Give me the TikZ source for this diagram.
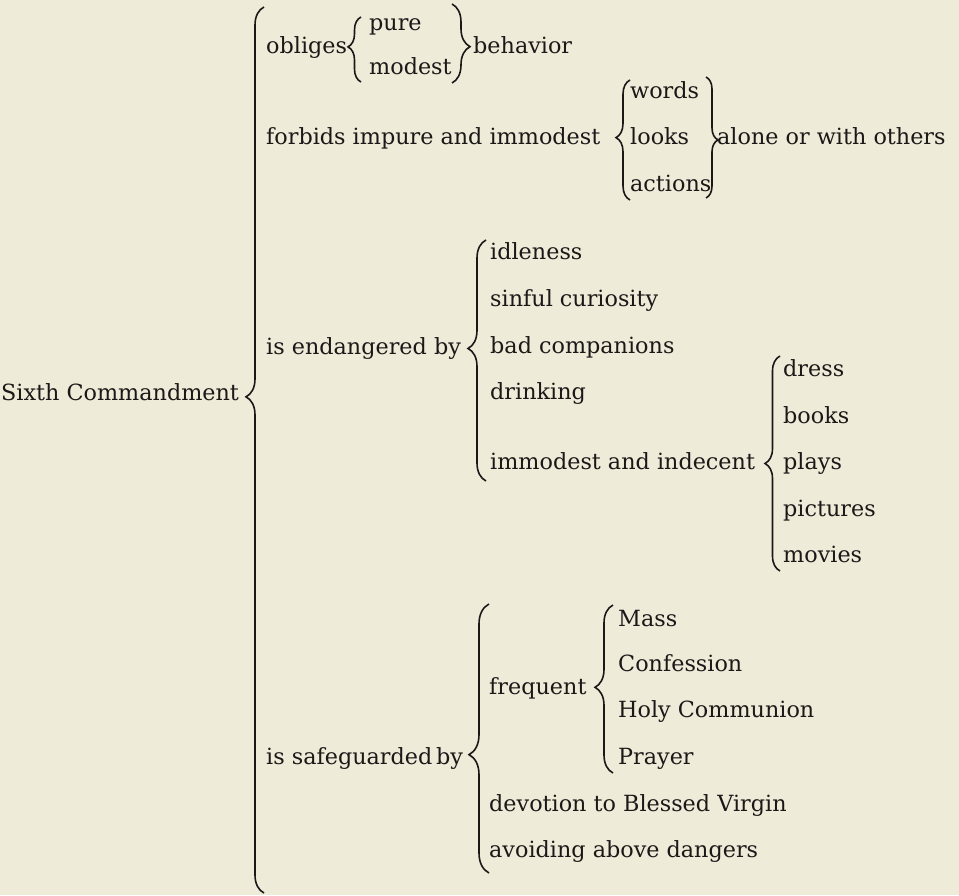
\documentclass[tikz,border=0pt]{standalone}
\usepackage{fontspec}
\setmainfont{DejaVu Serif}
\usepackage{xcolor}
\usetikzlibrary{decorations.pathreplacing}
\definecolor{paper}{RGB}{239,235,217}
\definecolor{ink}{RGB}{28,24,24}

\tikzset{
  word/.style={anchor=base west,inner sep=0pt,text=ink,font=\fontsize{22.3}{26}\selectfont},
  curly/.style={draw=ink,line width=1.6pt,decorate,decoration={brace,amplitude=#1}}
}

\begin{document}
\begin{tikzpicture}[x=1pt,y=-1pt]
        % page
        \fill[paper] (0,0) rectangle (959,895);
        \useasboundingbox (0,0) rectangle (959,895);

        % root
        \node[word] (sixth) at (1,400) {Sixth Commandment};
        \draw[curly=18,decoration={aspect=0.56}] (264,893) -- (264,7);

        % obliges
        \node[word] (obliges) at (266,53) {obliges};
        \draw[curly=13,decoration={aspect=0.54}] (361,82) -- (361,17);
        \node[word] (pure) at (369,30) {pure};
        \node[word] (modest) at (369,74) {modest};
        \draw[curly=18,decoration={aspect=0.54}] (452,4) -- (452,83);
        \node[word] (behavior) at (473,53) {behavior};

        % forbids
        \node[word] (forbids) at (266,144) {forbids impure and immodest};
        \draw[curly=14,decoration={aspect=0.52}] (630,200) -- (630,80);
        \node[word] (words) at (630,98) {words};
        \node[word] (looks) at (630,144) {looks};
        \node[word] (actions) at (630,191) {actions};
        \draw[curly=12,decoration={aspect=0.52}] (706,77) -- (706,198);
        \node[word] (alone) at (717,144) {alone or with others};

        % dangers
        \node[word] (endanger) at (266,354) {is endangered by};
        \draw[curly=18,decoration={aspect=0.55}] (486,481) -- (486,240);
        \node[word] (idle) at (490,259) {idleness};
        \node[word] (curious) at (490,306) {sinful curiosity};
        \node[word] (companions) at (490,353) {bad companions};
        \node[word] (drinking) at (490,399) {drinking};
        \node[word] (indecent) at (490,469) {immodest and indecent};
        \draw[curly=15,decoration={aspect=0.5}] (780,571) -- (780,356);
        \node[word] (dress) at (783,376) {dress};
        \node[word] (books) at (783,423) {books};
        \node[word] (plays) at (783,469) {plays};
        \node[word] (pictures) at (783,516) {pictures};
        \node[word] (movies) at (783,562) {movies};

        % safeguards
        \node[word] (safeguard) at (266,764) {is safeguarded\,by};
        \draw[curly=20,decoration={aspect=0.44}] (489,873) -- (489,604);
        \node[word] (frequent) at (489,694) {frequent};
        \draw[curly=18,decoration={aspect=0.51}] (613,773) -- (613,605);
        \node[word] (mass) at (618,626) {Mass};
        \node[word] (confession) at (618,671) {Confession};
        \node[word] (communion) at (618,717) {Holy Communion};
        \node[word] (prayer) at (618,764) {Prayer};
        \node[word] (devotion) at (489,811) {devotion to Blessed Virgin};
        \node[word] (avoiding) at (489,857) {avoiding above dangers};
\end{tikzpicture}
\end{document}
